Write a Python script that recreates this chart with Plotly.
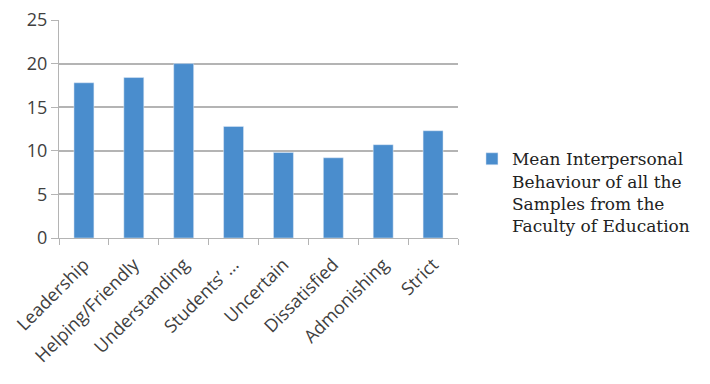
import plotly.graph_objects as go

categories = ["Leadership", "Helping/Friendly", "Understanding", "Students’ ...",
              "Uncertain", "Dissatisfied", "Admonishing", "Strict"]
values = [17.8, 18.4, 20.0, 12.8, 9.8, 9.2, 10.7, 12.3]
series_name = "Mean Interpersonal<br>Behaviour of all the<br>Samples from the<br>Faculty of Education"
y_ticks = [0, 5, 10, 15, 20, 25]

grid = "#b4b4b4"
fig = go.Figure(go.Bar(x=categories, y=values, name=series_name,
                       marker_color="#4a8dcd", showlegend=True))

# page body adds ~8px offset, so size and margins are trimmed to compensate
fig.update_layout(
    width=702, height=376,
    margin=dict(l=51, r=252, t=12, b=146),
    paper_bgcolor="white", plot_bgcolor="white",
    bargap=0.6,
    font=dict(family="Open Sans", color="#404040"),
    legend=dict(x=1.035, y=0.21, xanchor="left", yanchor="middle",
                valign="top", itemwidth=30,
                font=dict(family="DejaVu Serif", size=17, color="#222222")),
    xaxis=dict(tickangle=-45, tickfont=dict(size=18), showline=True, linecolor=grid,
               ticks="outside", tickson="boundaries", ticklen=6, tickcolor=grid,
               showgrid=False, automargin=False, ticklabelstandoff=8),
    yaxis=dict(range=[0, 25], tickvals=y_ticks, tickfont=dict(size=18),
               showgrid=True, gridcolor=grid, gridwidth=1.5,
               showline=True, linecolor=grid, ticks="outside", ticklen=7,
               tickcolor=grid, zeroline=False, automargin=False,
               ticklabeloverflow="allow"),
)

fig.write_html("out.html")
